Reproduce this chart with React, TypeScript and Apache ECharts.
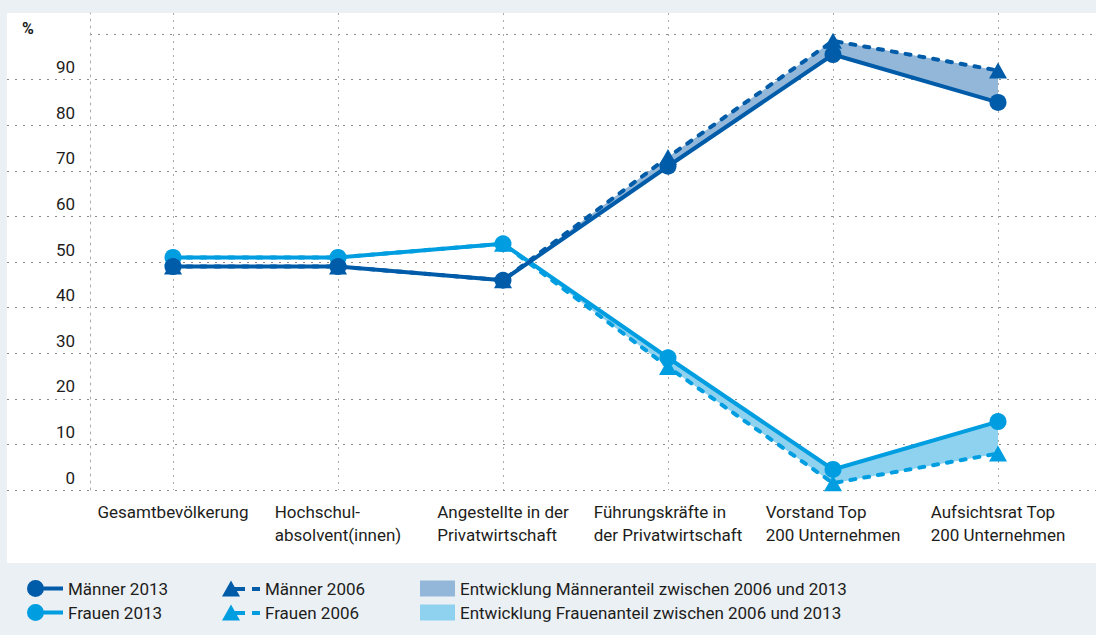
import React, { useEffect, useRef } from "react";
import * as echarts from "echarts";

const categories = [
  "Gesamtbevölkerung",
  "Hochschul-\nabsolvent(innen)",
  "Angestellte in der\nPrivatwirtschaft",
  "Führungskräfte in\nder Privatwirtschaft",
  "Vorstand Top\n200 Unternehmen",
  "Aufsichtsrat Top\n200 Unternehmen",
];

const maenner2013 = [49, 49, 46, 71, 95.5, 85];
const frauen2013 = [51, 51, 54, 29, 4.5, 15];
const maenner2006 = [49, 49, 46, 73, 98.5, 92];
const frauen2006 = [51, 51, 54, 27, 1.5, 8];

const yTickLabels = [0, 10, 20, 30, 40, 50, 60, 70, 80, 90];

const NAME_M13 = "Männer 2013";
const NAME_F13 = "Frauen 2013";
const NAME_M06 = "Männer 2006";
const NAME_F06 = "Frauen 2006";
const NAME_AREA_M = "Entwicklung Männeranteil zwischen 2006 und 2013";
const NAME_AREA_F = "Entwicklung Frauenanteil zwischen 2006 und 2013";

const C_M = "#005CA9";
const C_F = "#009EE0";
const C_AREA_M = "#93B7D9";
const C_AREA_F = "#8ED2F0";
const C_TEXT = "#1d1d1b";
const FONT = "Roboto";

const ICON_CIRCLE_LINE =
  "path://M0,8.5 A8.5,8.5 0 1,1 17,8.5 A8.5,8.5 0 1,1 0,8.5 Z M8,6.5 L36,6.5 L36,10.5 L8,10.5 Z";
const ICON_TRI_DASH =
  "path://M0,16 L9,0 L18,16 Z M12,6.5 L23,6.5 L23,10.5 L12,10.5 Z M30,6.5 L38,6.5 L38,10.5 L30,10.5 Z";

export default function App() {
  const ref = useRef<HTMLDivElement>(null);

  useEffect(() => {
    if (!ref.current) return;
    const chart = echarts.init(ref.current, undefined, { renderer: "svg" });

    const mLow = maenner2006.map((v, i) => Math.min(v, maenner2013[i]));
    const mDiff = maenner2006.map((v, i) => Math.abs(v - maenner2013[i]));
    const fLow = frauen2006.map((v, i) => Math.min(v, frauen2013[i]));
    const fDiff = frauen2006.map((v, i) => Math.abs(v - frauen2013[i]));

    const hColors = yTickLabels.map(() => "#8a8a8a").concat(["rgba(0,0,0,0)"]);
    const topColors = yTickLabels.map(() => "rgba(0,0,0,0)").concat(["#8a8a8a"]);

    const gridBox = { top: 34, bottom: 145 };

    const legendText = {
      color: C_TEXT,
      fontSize: 17,
      fontFamily: FONT,
      lineHeight: 17,
    };

    const option: any = {
      animation: false,
      backgroundColor: "#EBF0F5",
      textStyle: { fontFamily: FONT },
      graphic: [
        {
          type: "rect",
          z: -10,
          shape: { x: 7, y: 13, width: 1089, height: 550 },
          style: { fill: "#ffffff" },
          silent: true,
        },
        {
          type: "text",
          left: 22,
          top: 20,
          style: { text: "%", fill: C_TEXT, font: `bold 16px ${FONT}` },
        },
      ],
      grid: [
        { left: 173, right: 98, ...gridBox },
        { left: 7, right: 0, ...gridBox },
        { left: 90, right: 0, ...gridBox },
        { left: 173, right: 98, top: 13, bottom: 145 },
      ],
      xAxis: [
        {
          gridIndex: 0,
          type: "category",
          boundaryGap: false,
          data: categories,
          axisLine: { show: false },
          axisTick: { show: false },
          splitLine: { show: false },
          axisLabel: {
            interval: 0,
            margin: 10,
            formatter: (v: string) =>
              v
                .split("\n")
                .map((l) => `{a|${l}}`)
                .join("\n"),
            rich: {
              a: {
                fontSize: 17,
                lineHeight: 23,
                fontFamily: FONT,
                color: C_TEXT,
                align: "left",
              },
            },
          },
        },
        { gridIndex: 1, type: "value", min: 0, max: 1, show: false },
        { gridIndex: 2, type: "value", min: 0, max: 1, show: false },
        {
          gridIndex: 3,
          type: "category",
          boundaryGap: false,
          data: categories,
          axisLine: { show: false },
          axisTick: { show: false },
          axisLabel: { show: false },
          splitLine: {
            show: true,
            interval: 0,
            lineStyle: { color: "#ababab", width: 1, type: [2, 5] },
          },
        },
      ],
      yAxis: [
        { gridIndex: 0, type: "value", min: 0, max: 100, interval: 10, show: false },
        {
          gridIndex: 1,
          type: "value",
          min: 0,
          max: 100,
          interval: 10,
          axisLine: { show: false },
          axisTick: { show: false },
          axisLabel: { show: false },
          splitLine: {
            show: true,
            lineStyle: { color: hColors, width: 1, type: [2, 6] },
          },
        },
        {
          gridIndex: 2,
          type: "value",
          min: 0,
          max: 100,
          interval: 10,
          axisLine: { show: false },
          axisTick: { show: false },
          axisLabel: {
            margin: 15,
            fontSize: 17,
            lineHeight: 17,
            color: C_TEXT,
            fontFamily: FONT,
            verticalAlign: "bottom",
            padding: [0, 0, 4, 0],
            formatter: (v: number) => (yTickLabels.indexOf(v) >= 0 ? String(v) : ""),
          },
          splitLine: {
            show: true,
            lineStyle: { color: topColors, width: 1, type: [2, 6] },
          },
        },
        {
          gridIndex: 3,
          type: "value",
          min: 0,
          max: 1,
          offset: 83,
          axisLine: {
            show: true,
            lineStyle: { color: "#ababab", width: 1, type: [2, 5] },
          },
          axisTick: { show: false },
          axisLabel: { show: false },
          splitLine: { show: false },
        },
      ],
      legend: [
        {
          left: 22,
          top: 575,
          orient: "vertical",
          itemGap: 7,
          itemWidth: 36,
          itemHeight: 17,
          selectedMode: false,
          textStyle: legendText,
          data: [
            { name: NAME_M13, icon: ICON_CIRCLE_LINE, itemStyle: { color: C_M, borderWidth: 0 } },
            { name: NAME_F13, icon: ICON_CIRCLE_LINE, itemStyle: { color: C_F, borderWidth: 0 } },
          ],
        },
        {
          left: 217,
          top: 575,
          orient: "vertical",
          itemGap: 7,
          itemWidth: 38,
          itemHeight: 16,
          selectedMode: false,
          textStyle: legendText,
          data: [
            { name: NAME_M06, icon: ICON_TRI_DASH, itemStyle: { color: C_M, borderWidth: 0 } },
            { name: NAME_F06, icon: ICON_TRI_DASH, itemStyle: { color: C_F, borderWidth: 0 } },
          ],
        },
        {
          left: 415,
          top: 575,
          orient: "vertical",
          itemGap: 7,
          itemWidth: 35,
          itemHeight: 16,
          selectedMode: false,
          textStyle: legendText,
          data: [
            { name: NAME_AREA_M, icon: "rect", itemStyle: { color: C_AREA_M, borderWidth: 0 } },
            { name: NAME_AREA_F, icon: "rect", itemStyle: { color: C_AREA_F, borderWidth: 0 } },
          ],
        },
      ],
      series: [
        {
          name: "mBase",
          type: "line",
          stack: "m",
          data: mLow,
          symbol: "none",
          lineStyle: { opacity: 0, width: 0 },
          silent: true,
          z: 1,
        },
        {
          name: NAME_AREA_M,
          type: "line",
          stack: "m",
          data: mDiff,
          symbol: "none",
          color: C_AREA_M,
          lineStyle: { opacity: 0, width: 0 },
          areaStyle: { color: C_AREA_M, opacity: 1 },
          silent: true,
          z: 1,
        },
        {
          name: "fBase",
          type: "line",
          stack: "f",
          data: fLow,
          symbol: "none",
          lineStyle: { opacity: 0, width: 0 },
          silent: true,
          z: 1,
        },
        {
          name: NAME_AREA_F,
          type: "line",
          stack: "f",
          data: fDiff,
          symbol: "none",
          color: C_AREA_F,
          lineStyle: { opacity: 0, width: 0 },
          areaStyle: { color: C_AREA_F, opacity: 1 },
          silent: true,
          z: 1,
        },
        {
          name: NAME_F06,
          type: "line",
          data: frauen2006,
          symbol: "triangle",
          symbolSize: [18, 16],
          color: C_F,
          itemStyle: { color: C_F, borderWidth: 0 },
          lineStyle: { color: C_F, width: 4, type: [5, 9], cap: "round" },
          z: 2,
        },
        {
          name: NAME_M06,
          type: "line",
          data: maenner2006,
          symbol: "triangle",
          symbolSize: [18, 16],
          color: C_M,
          itemStyle: { color: C_M, borderWidth: 0 },
          lineStyle: { color: C_M, width: 4, type: [5, 9], cap: "round" },
          z: 2,
        },
        {
          name: NAME_F13,
          type: "line",
          data: frauen2013,
          symbol: "circle",
          symbolSize: 17,
          color: C_F,
          itemStyle: { color: C_F, borderWidth: 0 },
          lineStyle: { color: C_F, width: 4 },
          z: 3,
        },
        {
          name: NAME_M13,
          type: "line",
          data: maenner2013,
          symbol: "circle",
          symbolSize: 17,
          color: C_M,
          itemStyle: { color: C_M, borderWidth: 0 },
          lineStyle: { color: C_M, width: 4 },
          z: 3,
        },
      ],
    };

    chart.setOption(option);
    return () => chart.dispose();
  }, []);

  return (
    <div
      ref={ref}
      style={{ position: "fixed", left: 0, top: 0, width: 1096, height: 635 }}
    />
  );
}
